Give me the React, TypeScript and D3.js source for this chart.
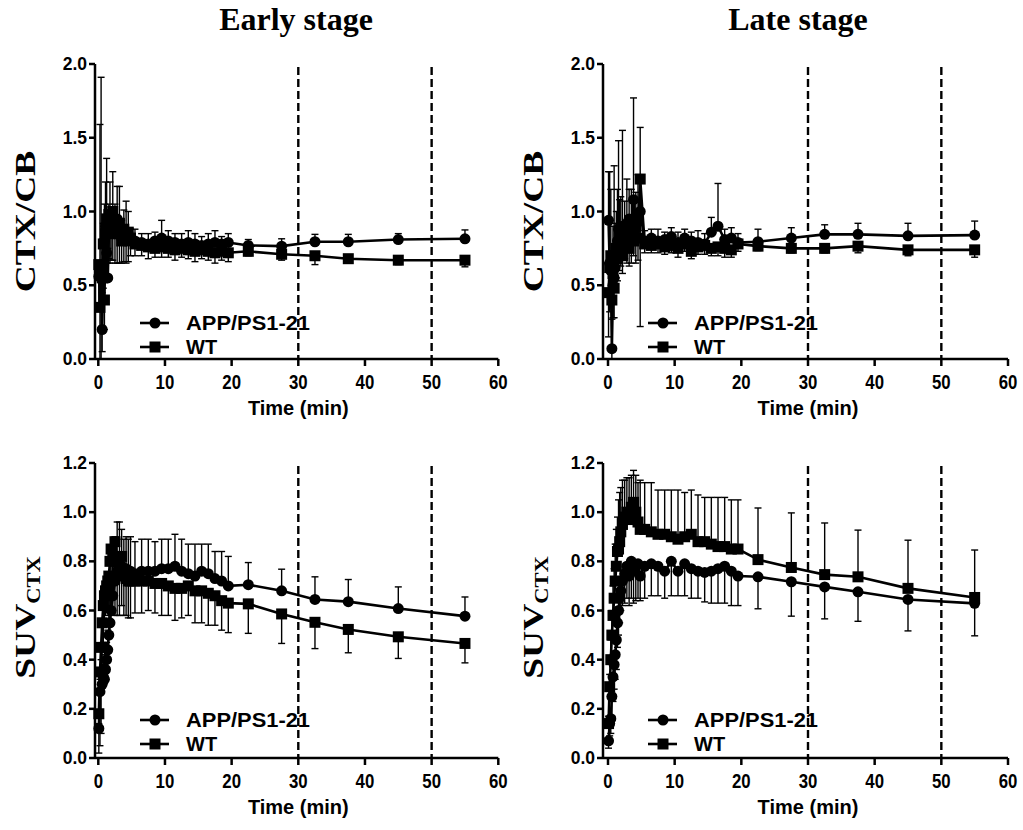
import * as d3 from 'd3';

// frame mid-times (min)
const times = [
  0.08, 0.25, 0.42, 0.58, 0.75, 0.92, 1.08, 1.25, 1.42, 1.58, 1.75, 1.92, 2.17, 2.5, 2.83, 3.17, 3.5, 3.83, 4.17, 4.5, 4.83,
  5.5, 6.5, 7.5, 8.5, 9.5, 10.5, 11.5, 12.5, 13.5, 14.5, 15.5, 16.5, 17.5, 18.5, 19.5,
  22.5, 27.5, 32.5, 37.5, 45, 55,
];

// Early stage, CTX/CB
const earlyRatioApp = [
  0.56, 0.62, 0.58, 0.2, 0.62, 0.8, 0.9, 0.72, 0.55, 0.85, 0.95, 0.88, 0.92, 0.85, 0.95, 0.88, 0.82, 0.86, 0.8, 0.84, 0.8,
  0.8, 0.79, 0.78, 0.8, 0.82, 0.8, 0.79, 0.78, 0.79, 0.78, 0.77, 0.78, 0.79, 0.78, 0.79,
  0.77, 0.765, 0.795, 0.795, 0.81, 0.815,
];
const earlyRatioAppSem = [
  0.1, 0.97, 1.33, 0.25, 0.3, 0.25, 0.3, 0.64, 0.2, 0.2, 0.25, 0.15, 0.35, 0.2, 0.22, 0.29, 0.12, 0.15, 0.27, 0.16, 0.08,
  0.08, 0.06, 0.07, 0.06, 0.12, 0.07, 0.06, 0.07, 0.08, 0.07, 0.06, 0.07, 0.08, 0.05, 0.06,
  0.04, 0.05, 0.05, 0.05, 0.04, 0.06,
];
const earlyRatioWt = [
  0.64, 0.35, 0.62, 0.55, 0.78, 0.4, 0.85, 0.95, 0.9, 0.98, 0.85, 0.95, 1.0, 0.9, 0.85, 0.92, 0.8, 0.88, 0.82, 0.86, 0.82,
  0.78, 0.77, 0.76, 0.75, 0.76, 0.75, 0.74, 0.75, 0.74, 0.73, 0.74, 0.73, 0.72, 0.73, 0.72,
  0.73, 0.71, 0.7, 0.68, 0.67, 0.67,
];
const earlyRatioWtSem = [
  0.3, 0.35, 0.62, 0.5, 0.3, 0.2, 0.2, 0.3, 0.25, 0.3, 0.2, 0.28, 0.33, 0.25, 0.2, 0.27, 0.15, 0.22, 0.17, 0.2, 0.12,
  0.08, 0.07, 0.08, 0.06, 0.07, 0.06, 0.07, 0.06, 0.06, 0.07, 0.06, 0.06, 0.07, 0.06, 0.06,
  0.03, 0.04, 0.06, 0.03, 0.03, 0.045,
];

// Late stage, CTX/CB
const lateRatioApp = [
  0.94, 0.65, 0.6, 0.07, 0.5, 0.55, 0.62, 0.7, 0.8, 0.88, 0.78, 0.85, 0.9, 0.82, 0.92, 0.95, 0.9, 1.08, 0.88, 0.95, 1.0,
  0.8, 0.82, 0.8, 0.81, 0.83, 0.79, 0.82, 0.8, 0.79, 0.78, 0.86, 0.9, 0.81, 0.82, 0.79,
  0.795, 0.82, 0.845, 0.845, 0.835, 0.84,
];
const lateRatioAppSem = [
  0.33, 0.62, 0.55, 0.2, 0.4, 0.76, 0.3, 0.3, 0.35, 0.6, 0.3, 0.25, 0.65, 0.25, 0.3, 0.2, 0.25, 0.69, 0.25, 0.3, 0.57,
  0.07, 0.06, 0.08, 0.05, 0.06, 0.07, 0.06, 0.06, 0.08, 0.07, 0.1, 0.29, 0.07, 0.07, 0.06,
  0.085, 0.07, 0.065, 0.075, 0.085, 0.095,
];
const lateRatioWt = [
  0.45, 0.62, 0.7, 0.4, 0.58, 0.48, 0.7, 0.75, 0.68, 0.72, 0.85, 0.78, 0.7, 0.88, 0.8, 0.75, 0.85, 0.8, 0.9, 0.82, 1.22,
  0.78, 0.77, 0.78, 0.76, 0.77, 0.75, 0.78, 0.73, 0.76, 0.77, 0.75, 0.76, 0.75, 0.74, 0.78,
  0.765, 0.75, 0.75, 0.765, 0.74, 0.74,
];
const lateRatioWtSem = [
  0.3, 0.3, 0.25, 0.4, 0.3, 0.2, 0.15, 0.2, 0.15, 0.12, 0.2, 0.15, 0.12, 0.2, 0.15, 0.12, 0.2, 0.1, 0.25, 0.15, 1.0,
  0.06, 0.05, 0.06, 0.05, 0.05, 0.06, 0.05, 0.05, 0.05, 0.06, 0.05, 0.06, 0.06, 0.05, 0.05,
  0.03, 0.03, 0.03, 0.045, 0.04, 0.05,
];

// Early stage, SUV CTX
const earlySuvApp = [
  0.12, 0.27, 0.35, 0.3, 0.33, 0.32, 0.36, 0.4, 0.44, 0.5, 0.55, 0.6, 0.66, 0.72, 0.76, 0.74, 0.78, 0.75, 0.77, 0.76, 0.76,
  0.75, 0.76, 0.76, 0.76, 0.77, 0.77, 0.78, 0.76, 0.75, 0.74, 0.76, 0.75, 0.73, 0.72, 0.7,
  0.705, 0.68, 0.645, 0.636, 0.608, 0.577,
];
const earlySuvAppSem = [
  0.02, 0.05, 0.05, 0.05, 0.05, 0.06, 0.06, 0.07, 0.08, 0.1, 0.12, 0.15, 0.2, 0.18, 0.2, 0.22, 0.15, 0.14, 0.13, 0.13, 0.14,
  0.13, 0.13, 0.13, 0.12, 0.12, 0.12, 0.13, 0.13, 0.12, 0.13, 0.11, 0.12, 0.11, 0.12, 0.12,
  0.09, 0.088, 0.092, 0.09, 0.088, 0.078,
];
const earlySuvWt = [
  0.18, 0.35, 0.45, 0.55, 0.62, 0.66, 0.68, 0.7, 0.72, 0.74, 0.8, 0.85, 0.82, 0.88, 0.8, 0.76, 0.82, 0.75, 0.73, 0.72, 0.72,
  0.72, 0.72, 0.72, 0.71, 0.71, 0.7, 0.69, 0.69, 0.7, 0.68, 0.68, 0.67, 0.66, 0.64, 0.63,
  0.627, 0.586, 0.552, 0.523, 0.493, 0.466,
];
const earlySuvWtSem = [
  0.16, 0.3, 0.35, 0.2, 0.15, 0.12, 0.1, 0.1, 0.12, 0.12, 0.2, 0.25, 0.22, 0.3, 0.22, 0.18, 0.2, 0.17, 0.15, 0.15, 0.15,
  0.13, 0.13, 0.12, 0.12, 0.13, 0.12, 0.13, 0.12, 0.12, 0.13, 0.13, 0.13, 0.12, 0.12, 0.12,
  0.12, 0.12, 0.107, 0.095, 0.088, 0.079,
];

// Late stage, SUV CTX
const lateSuvApp = [
  0.07, 0.14, 0.16, 0.25, 0.33, 0.38, 0.42, 0.48, 0.55, 0.6, 0.65, 0.68, 0.72, 0.75, 0.78, 0.74, 0.8, 0.76, 0.78, 0.79, 0.74,
  0.78, 0.79, 0.78, 0.76, 0.8, 0.76, 0.79, 0.77, 0.76, 0.755, 0.76, 0.77, 0.78, 0.76, 0.74,
  0.737, 0.717, 0.696, 0.676, 0.645, 0.629,
];
const lateSuvAppSem = [
  0.03, 0.05, 0.06, 0.08, 0.1, 0.1, 0.1, 0.12, 0.1, 0.1, 0.1, 0.08, 0.1, 0.12, 0.13, 0.12, 0.15, 0.13, 0.14, 0.14, 0.1,
  0.13, 0.13, 0.12, 0.11, 0.14, 0.1, 0.13, 0.12, 0.11, 0.12, 0.13, 0.14, 0.15, 0.14, 0.12,
  0.13, 0.14, 0.13, 0.12, 0.128, 0.132,
];
const lateSuvWt = [
  0.14, 0.29, 0.4, 0.5, 0.58, 0.65, 0.72, 0.78, 0.84, 0.85, 0.88, 0.92, 0.95, 0.98, 1.0, 0.97, 1.02, 1.04, 1.0, 0.96, 0.93,
  0.93, 0.92, 0.91, 0.91, 0.9, 0.89, 0.9, 0.91, 0.88, 0.88, 0.87, 0.86, 0.86, 0.85, 0.85,
  0.807, 0.775, 0.746, 0.737, 0.69, 0.653,
];
const lateSuvWtSem = [
  0.03, 0.05, 0.08, 0.1, 0.12, 0.12, 0.15, 0.15, 0.14, 0.2, 0.2, 0.18, 0.18, 0.15, 0.14, 0.17, 0.13, 0.13, 0.15, 0.16, 0.2,
  0.19, 0.2, 0.18, 0.18, 0.19, 0.2, 0.18, 0.18, 0.19, 0.18, 0.19, 0.2, 0.2, 0.2, 0.2,
  0.21, 0.222, 0.21, 0.19, 0.196, 0.193,
];

const timeTicks = [0, 10, 20, 30, 40, 50, 60];
const ratioTicks = [0, 0.5, 1.0, 1.5, 2.0];
const suvTicks = [0, 0.2, 0.4, 0.6, 0.8, 1.0, 1.2];
const cutTimes = [30, 50];
const stageTitles = ['Early stage', 'Late stage'];
const groupNames = ['APP/PS1-21', 'WT'];

const SANS = '"Liberation Sans", Arial, Helvetica, sans-serif';
const SERIF = '"Liberation Serif", "Times New Roman", Times, serif';

type Series = { mean: number[]; sem: number[]; dir: number; shape: 'circle' | 'square' };

function Marker({ shape, cx, cy }: { shape: string; cx: number; cy: number }) {
  if (shape === 'circle') return <circle cx={cx} cy={cy} r={5.5} fill="#000" />;
  return <rect x={cx - 5.5} y={cy - 5.5} width={11} height={11} fill="#000" />;
}

function Panel({
  left, top, yMax, ticks, series, ylabel,
}: {
  left: number; top: number; yMax: number; ticks: number[]; series: Series[]; ylabel: 'ratio' | 'suv';
}) {
  const x0 = left === 0 ? 98.3 : 608;
  const yTop = top === 0 ? 64 : 463;
  const yBottom = top === 0 ? 359 : 758;
  const x = d3.scaleLinear().domain([0, 60]).range([x0, x0 + 400]);
  const y = d3.scaleLinear().domain([0, yMax]).range([yBottom, yTop]);
  const axisX = left === 0 ? 95 : 603;
  const line = d3.line<number>().x((_, i) => x(times[i])).y((d) => y(d));
  const fmt = d3.format('.1f');
  const legendX = axisX + 45;
  const legendY = top === 0 ? [323, 347] : [720, 744];

  return (
    <g>
      {/* cut-off lines */}
      {cutTimes.map((t) => (
        <line key={t} x1={x(t)} x2={x(t)} y1={yTop + 3} y2={yBottom} stroke="#000" strokeWidth={2.4} strokeDasharray="8,4" />
      ))}
      {/* axes */}
      <line x1={axisX} x2={axisX} y1={yTop} y2={yBottom} stroke="#000" strokeWidth={2.5} />
      <line x1={axisX} x2={x(60)} y1={yBottom} y2={yBottom} stroke="#000" strokeWidth={2.5} />
      {ticks.map((t) => (
        <g key={t}>
          <line x1={axisX - 6} x2={axisX} y1={y(t)} y2={y(t)} stroke="#000" strokeWidth={2.5} />
          <text x={axisX - 8} y={y(t) + 6} textAnchor="end" fontFamily={SANS} fontWeight="bold" fontSize={17.5}>
            {fmt(t)}
          </text>
        </g>
      ))}
      {timeTicks.map((t) => (
        <g key={t}>
          <line x1={x(t)} x2={x(t)} y1={yBottom} y2={yBottom + 7} stroke="#000" strokeWidth={2.5} />
          <text
            transform={`translate(${x(t)}, ${yBottom + 30}) scale(0.82, 1)`}
            textAnchor="middle" fontFamily={SANS} fontWeight="bold" fontSize={20.5}
          >
            {t}
          </text>
        </g>
      ))}
      <text x={x0 + 200} y={yBottom + 56} textAnchor="middle" fontFamily={SANS} fontWeight="bold" fontSize={20}>
        Time (min)
      </text>
      {/* y label */}
      {ylabel === 'ratio' ? (
        <text
          transform={`translate(${axisX - 60}, ${(yTop + yBottom) / 2 + 10}) rotate(-90) scale(1.25, 1)`}
          textAnchor="middle" fontFamily={SERIF} fontWeight="bold" fontSize={30}
        >
          CTX/CB
        </text>
      ) : (
        <text
          transform={`translate(${axisX - 60}, ${(yTop + yBottom) / 2 + 7}) rotate(-90) scale(1.25, 1)`}
          textAnchor="middle" fontFamily={SERIF} fontWeight="bold" fontSize={30}
        >
          SUV<tspan fontSize={18} dy={5}>CTX</tspan>
        </text>
      )}
      {/* data, WT drawn first */}
      {[...series].reverse().map((s, si) => (
        <g key={si}>
          {s.mean.map((m, i) => {
            const e = y(m + s.dir * s.sem[i]);
            const cx = x(times[i]);
            return (
              <g key={i} stroke="#000" strokeWidth={1.4}>
                <line x1={cx} x2={cx} y1={y(m)} y2={e} />
                <line x1={cx - 3.5} x2={cx + 3.5} y1={e} y2={e} />
              </g>
            );
          })}
          <path d={line(s.mean) ?? ''} fill="none" stroke="#000" strokeWidth={2.6} />
          {s.mean.map((m, i) => (
            <Marker key={i} shape={s.shape} cx={x(times[i])} cy={y(m)} />
          ))}
        </g>
      ))}
      {/* legend */}
      {series.map((s, i) => (
        <g key={i}>
          <line x1={legendX} x2={legendX + 29} y1={legendY[i]} y2={legendY[i]} stroke="#000" strokeWidth={2.6} />
          <Marker shape={s.shape} cx={legendX + 15} cy={legendY[i]} />
          <text
            x={legendX + 46} y={legendY[i] + 7} fontFamily={SANS} fontWeight="bold" fontSize={20}
            textLength={i === 0 ? 124 : undefined} lengthAdjust="spacingAndGlyphs"
          >
            {groupNames[i]}
          </text>
        </g>
      ))}
    </g>
  );
}

export default function App() {
  return (
    <svg
      width={1023} height={830}
      style={{ position: 'absolute', left: 0, top: 0, display: 'block', background: '#fff' }}
    >
      <rect width={1023} height={830} fill="#fff" />
      {stageTitles.map((t, i) => (
        <text key={t} x={i === 0 ? 296 : 798} y={30} textAnchor="middle" fontFamily={SERIF} fontWeight="bold" fontSize={32}>
          {t}
        </text>
      ))}
      <Panel left={0} top={0} yMax={2} ticks={ratioTicks} ylabel="ratio"
        series={[
          { mean: earlyRatioApp, sem: earlyRatioAppSem, dir: 1, shape: 'circle' },
          { mean: earlyRatioWt, sem: earlyRatioWtSem, dir: -1, shape: 'square' },
        ]} />
      <Panel left={1} top={0} yMax={2} ticks={ratioTicks} ylabel="ratio"
        series={[
          { mean: lateRatioApp, sem: lateRatioAppSem, dir: 1, shape: 'circle' },
          { mean: lateRatioWt, sem: lateRatioWtSem, dir: -1, shape: 'square' },
        ]} />
      <Panel left={0} top={1} yMax={1.2} ticks={suvTicks} ylabel="suv"
        series={[
          { mean: earlySuvApp, sem: earlySuvAppSem, dir: 1, shape: 'circle' },
          { mean: earlySuvWt, sem: earlySuvWtSem, dir: -1, shape: 'square' },
        ]} />
      <Panel left={1} top={1} yMax={1.2} ticks={suvTicks} ylabel="suv"
        series={[
          { mean: lateSuvApp, sem: lateSuvAppSem, dir: -1, shape: 'circle' },
          { mean: lateSuvWt, sem: lateSuvWtSem, dir: 1, shape: 'square' },
        ]} />
    </svg>
  );
}
